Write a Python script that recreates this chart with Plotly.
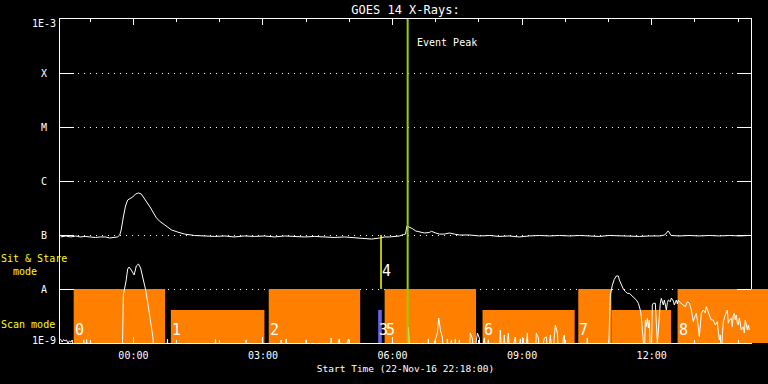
import math
from datetime import datetime, timedelta
import plotly.graph_objects as go

# ---------------- data ----------------
start_time = datetime(2016, 11, 22, 22, 18)
end_time = datetime(2016, 11, 23, 14, 18)

# GOES 1-8 A channel (minutes after start, flux W/m^2)
long_min = [1, 8, 15, 22, 28, 35, 42, 49, 56, 63, 69, 74, 80, 83, 85, 88, 91, 94, 97, 101,
            105, 109, 113, 117, 122, 126, 130, 134, 138, 144, 149, 155, 163, 173, 187, 201,
            215, 229, 242, 256, 270, 284, 298, 312, 326, 340, 354, 367, 381, 395, 409, 423,
            433, 444, 451, 458, 465, 472, 477, 480, 482, 485, 490, 494, 499, 506, 513, 516,
            522, 527, 534, 541, 548, 555, 569, 583, 597, 610, 624, 638, 652, 666, 680, 694,
            708, 722, 735, 749, 763, 777, 791, 805, 819, 833, 840, 845, 849, 860, 874, 888,
            902, 916, 930, 944, 958]
long_flux = [9.2e-8, 9.6e-8, 9.2e-8, 9.6e-8, 9.2e-8, 9.4e-8, 9.2e-8, 9.0e-8, 9.2e-8, 9.2e-8,
             8.8e-8, 9.0e-8, 9.2e-8, 1.0e-7, 1.24e-7, 2.15e-7, 3.44e-7, 4.45e-7, 4.64e-7, 5.06e-7,
             5.74e-7, 6.0e-7, 5.74e-7, 4.84e-7, 3.92e-7, 3.16e-7, 2.55e-7, 2.07e-7, 1.82e-7, 1.6e-7,
             1.41e-7, 1.24e-7, 1.14e-7, 1.04e-7, 9.8e-8, 9.6e-8, 9.4e-8, 9.6e-8, 9.2e-8, 9.6e-8,
             9.4e-8, 9.6e-8, 9.2e-8, 9.6e-8, 9.4e-8, 9.2e-8, 9.4e-8, 9.2e-8, 9.0e-8, 9.2e-8,
             8.8e-8, 8.6e-8, 8.4e-8, 8.8e-8, 9.2e-8, 9.2e-8, 9.4e-8, 9.6e-8, 1.02e-7, 1.04e-7,
             1.47e-7, 1.41e-7, 1.3e-7, 1.19e-7, 1.14e-7, 1.09e-7, 1.11e-7, 1.17e-7, 1.09e-7, 1.04e-7,
             1.04e-7, 1.09e-7, 1.04e-7, 1.0e-7, 1.0e-7, 9.6e-8, 9.8e-8, 9.4e-8, 9.6e-8, 9.2e-8,
             9.6e-8, 9.8e-8, 9.6e-8, 9.8e-8, 9.6e-8, 9.8e-8, 9.6e-8, 9.4e-8, 9.8e-8, 9.6e-8,
             9.6e-8, 9.4e-8, 9.6e-8, 9.6e-8, 1.0e-7, 1.19e-7, 9.8e-8, 9.6e-8, 9.8e-8, 9.6e-8,
             9.8e-8, 9.6e-8, 9.8e-8, 9.6e-8, 9.8e-8]

# GOES 0.5-4 A channel (minutes after start, flux W/m^2); values < 1E-9 are off-scale
short_min = [0.5, 3, 5, 7, 9, 11, 13, 15, 17, 19, 32, 33, 35, 37, 39, 84, 86.5, 88, 89.5, 92,
             94, 96, 99, 103, 106, 109, 112, 115, 119, 122, 126, 129, 131,
             148, 149.3, 151, 214, 216, 218, 257, 258.6, 260, 306, 307.2, 310, 314.2, 316,
             341, 342, 343, 375, 376.7, 378, 388.2, 390, 401.1, 403,
             482, 484, 486, 510, 511.8, 513, 521.5, 524.3, 526.1, 528.5, 531.2, 533,
             537, 538.2, 540, 543.8, 546, 549.3, 551, 554.9, 557,
             568, 570.1, 572.9, 575, 579.9, 582.6, 584, 589.6, 591, 595.2, 597,
             610, 611.8, 614, 617.3, 619, 622.9, 625, 632.6, 635, 639.6, 641, 643.7, 646, 649.3, 651,
             660, 661.8, 664.6, 667, 672.9, 675.7, 678, 681.3, 684, 688.2, 691.0, 693,
             697, 699.3, 700.7, 702, 731, 732.6, 734,
             761.8, 763.2, 764.6, 767.4, 770.1, 772.9, 775.7, 777.1, 779.9, 782.6, 785.4, 788.2,
             791.0, 793.7, 796.5, 799.3, 800.7, 803.5, 806.2, 807.6, 809.0, 810.4, 811.8, 813.2,
             814.6, 816.0, 817.4, 818.8, 820.2, 821.5, 822.9, 824.3, 827.1, 828.5, 829.9, 831.3,
             832.6, 834.0, 835.4, 836.8, 838.2, 839.6, 841.0, 842.4, 843.8, 845.2, 846.5, 847.9,
             849.3, 850.7, 852.1, 853.5, 854.9, 856.3, 857.7, 859.0, 860.4, 863.2, 866.0, 868.8,
             871.5, 874.3, 877.1, 879.9, 881.3, 884.0, 886.8, 888.2, 889.6, 891.0, 893.8, 896.5,
             897.9, 899.3, 902.1, 904.9, 907.6, 910.4, 913.2, 914.6, 916.0, 917.4, 918.8, 920.2,
             921.5, 924.3, 927.1, 928.5, 929.9, 932.6, 934.0, 935.4, 936.8, 938.2, 939.6, 941.0,
             942.4, 943.8, 946.5, 949.3, 950.7, 952.1, 954.9, 956.3, 957.7]
short_flux = [1.19e-9, 1.04e-9, 1.16e-9, 1.09e-9, 1.14e-9, 1.0e-9, 1.09e-9, 1.04e-9, 1.14e-9, 5e-10,
              5e-10, 1.14e-9, 5e-10, 1.16e-9, 5e-10, 5e-10, 5e-10, 7.7e-9, 9.6e-9, 1.47e-8,
              2.34e-8, 2.55e-8, 2.25e-8, 1.82e-8, 2.67e-8, 2.9e-8, 2.45e-8, 1.67e-8, 9.6e-9, 5.5e-9,
              2.67e-9, 1.29e-9, 5e-10,
              5e-10, 1.17e-9, 5e-10, 5e-10, 1.17e-9, 5e-10, 5e-10, 1.14e-9, 5e-10, 5e-10, 1.14e-9,
              5e-10, 1.19e-9, 5e-10,
              5e-10, 1.14e-9, 5e-10, 5e-10, 1.24e-9, 5e-10, 1.19e-9, 5e-10, 1.19e-9, 5e-10,
              5e-10, 1.98e-9, 5e-10, 5e-10, 1.19e-9, 5e-10, 1.24e-9, 1.53e-9, 2.9e-9, 1.74e-9,
              1.29e-9, 5e-10,
              5e-10, 1.19e-9, 5e-10, 1.14e-9, 5e-10, 1.19e-9, 5e-10, 1.14e-9, 5e-10,
              5e-10, 1.53e-9, 1.2e-9, 5e-10, 1.53e-9, 1.24e-9, 5e-10, 1.24e-9, 5e-10, 1.14e-9, 5e-10,
              5e-10, 1.74e-9, 5e-10, 1.41e-9, 5e-10, 1.53e-9, 5e-10, 1.29e-9, 5e-10, 1.19e-9, 5e-10,
              1.24e-9, 5e-10, 1.53e-9, 5e-10,
              5e-10, 1.53e-9, 1.24e-9, 5e-10, 1.24e-9, 1.29e-9, 5e-10, 1.41e-9, 5e-10, 2.15e-9,
              1.53e-9, 5e-10,
              5e-10, 1.24e-9, 1.41e-9, 5e-10, 5e-10, 1.24e-9, 5e-10,
              5e-10, 4.08e-9, 7.74e-9, 1.19e-8, 1.51e-8, 1.74e-8, 1.74e-8, 1.47e-8, 1.19e-8, 1.0e-8,
              9.0e-9, 8.3e-9, 8.3e-9, 7.74e-9, 7.2e-9, 6.45e-9, 6.26e-9, 5.44e-9, 4.08e-9, 3.07e-9,
              2.0e-9, 1.06e-9, 5e-10, 2.67e-9, 2.0e-9, 2.87e-9, 1.9e-9, 2.67e-9, 5e-10, 5e-10,
              5.05e-9, 5.44e-9, 5.44e-9, 2.32e-9, 1.01e-9, 1.74e-9, 3.55e-9, 5.44e-9, 6.7e-9, 5.8e-9,
              5.05e-9, 6.26e-9, 5.05e-9, 4.08e-9, 5.6e-9, 6.26e-9, 6.1e-9, 5.8e-9, 6.81e-9, 6.45e-9,
              5.99e-9, 5.05e-9, 5.8e-9, 6.26e-9, 5.27e-9, 6.26e-9, 5.8e-9, 5.44e-9, 5.05e-9, 4.7e-9,
              5.8e-9, 5.5e-9, 4.08e-9, 2.48e-9, 2.9e-9, 3.55e-9, 2.0e-9, 1.31e-9, 2.15e-9, 3.55e-9,
              4.08e-9, 3.59e-9, 4.7e-9, 4.08e-9, 3.3e-9, 2.67e-9, 2.67e-9, 2.15e-9, 2.48e-9, 1.62e-9,
              1.14e-9, 1.41e-9, 5e-10, 1.41e-9, 2.48e-9, 3.3e-9, 4.08e-9, 2.32e-9, 2.67e-9, 2.87e-9,
              2.0e-9, 3.3e-9, 3.55e-9, 2.67e-9, 3.3e-9, 2.32e-9, 2.15e-9, 2.9e-9, 1.74e-9, 2.0e-9,
              1.53e-9, 2.67e-9, 1.74e-9, 2.15e-9, 1.74e-9]

y_tick_vals = [1e-9, 1e-8, 1e-7, 1e-6, 1e-5, 1e-4, 1e-3]
y_tick_text = ["1E-9", "A", "B", "C", "M", "X", "1E-3"]

# observation blocks
block_labels = ["0", "1", "2", "3", "5", "6", "7", "", "8"]
block_start = ["2016-11-22 22:37", "2016-11-23 00:52", "2016-11-23 03:08", "2016-11-23 05:40",
               "2016-11-23 05:49", "2016-11-23 08:05", "2016-11-23 10:18", "2016-11-23 11:04",
               "2016-11-23 12:36"]
block_end = ["2016-11-23 00:44", "2016-11-23 03:02", "2016-11-23 05:15", "2016-11-23 05:45",
             "2016-11-23 07:56", "2016-11-23 10:13", "2016-11-23 11:04", "2016-11-23 12:27",
             "2016-11-23 15:00"]
block_mode = ["sit", "scan", "sit", "scan", "sit", "scan", "sit", "scan", "sit"]
block_kind = ["obs", "obs", "obs", "alt", "obs", "obs", "obs", "obs", "obs"]

marker4_label = "4"
marker4_time = "2016-11-23 05:44"
marker4_range = [1e-8, 1e-7]

event_peak_time = "2016-11-23 06:21"
event_peak_text = "Event Peak"

# ---------------- styles ----------------
mode_top = {"sit": 1e-8, "scan": 4.1e-9}
kind_color = {"obs": "#FF8000", "alt": "rgb(100,100,235)"}
FONT = "DejaVu Sans Mono"

def to_dt(m):
    return start_time + timedelta(minutes=m)

long_t = [to_dt(m) for m in long_min]
short_t = [to_dt(m) for m in short_min]

fig = go.Figure()
fig.add_trace(go.Scatter(x=long_t, y=long_flux, mode="lines",
                         line=dict(color="white", width=1), showlegend=False, hoverinfo="skip"))
fig.add_trace(go.Scatter(x=short_t, y=short_flux, mode="lines",
                         line=dict(color="white", width=1), showlegend=False, hoverinfo="skip"))

shapes = []
annotations = []
span_s = (end_time - start_time).total_seconds()
for lab, s, e, mode, kind in zip(block_labels, block_start, block_end, block_mode, block_kind):
    top = mode_top[mode]
    shapes.append(dict(type="rect", xref="x", yref="y", x0=s, x1=e, y0=1e-9, y1=top,
                       fillcolor=kind_color[kind], line=dict(width=0), layer="between"))
    e_dt = datetime.strptime(e, "%Y-%m-%d %H:%M")
    if e_dt > end_time:
        frac = (e_dt - start_time).total_seconds() / span_s
        shapes.append(dict(type="rect", xref="paper", yref="paper", x0=1, x1=frac, y0=0,
                           y1=(math.log10(top) + 9) / 6.0,
                           fillcolor=kind_color[kind], line=dict(width=0), layer="above"))
    if lab:
        annotations.append(dict(x=s, y=0.04, xref="x", yref="paper", text=lab, showarrow=False,
                                xanchor="left", yanchor="middle", xshift=-1,
                                font=dict(family=FONT, size=15, color="white")))

# marker 4 line
shapes.append(dict(type="line", xref="x", yref="y", x0=marker4_time, x1=marker4_time,
                   y0=marker4_range[0], y1=marker4_range[1],
                   line=dict(color="#FFFF00", width=1.5), layer="above"))
annotations.append(dict(x=marker4_time, y=0.221, xref="x", yref="paper", text=marker4_label,
                        showarrow=False, xanchor="left", yanchor="middle", xshift=-1,
                        font=dict(family=FONT, size=15, color="white")))

# event peak
shapes.append(dict(type="line", xref="x", yref="paper", x0=event_peak_time, x1=event_peak_time,
                   y0=0, y1=1, line=dict(color="#9ACD00", width=2), layer="above"))
annotations.append(dict(x=event_peak_time, y=0.926, xref="x", yref="paper", text=event_peak_text,
                        showarrow=False, xanchor="left", yanchor="middle", xshift=7,
                        font=dict(family=FONT, size=10, color="white")))

# y labels
for v, t in zip(y_tick_vals, y_tick_text):
    ys = 0
    if v == y_tick_vals[-1]:
        ys = -4
    elif v == y_tick_vals[0]:
        ys = 3
    annotations.append(dict(x=0, y=math.log10(v), xref="paper", yref="y", text=t, showarrow=False,
                            xanchor="center", yanchor="middle", xshift=-16, yshift=ys,
                            font=dict(family=FONT, size=10, color="white")))

# mode labels
annotations.append(dict(x=0, y=0.241, xref="paper", yref="paper",
                        text="Sit & Stare<br>\u00a0\u00a0mode", showarrow=False, align="left",
                        xanchor="left", yanchor="middle", xshift=-61,
                        font=dict(family=FONT, size=10, color="#FFFF00")))
annotations.append(dict(x=0, y=0.0586, xref="paper", yref="paper", text="Scan mode",
                        showarrow=False, align="left", xanchor="left", yanchor="middle", xshift=-61,
                        font=dict(family=FONT, size=10, color="#FFFF00")))

fig.update_layout(
    width=768, height=384,
    margin=dict(l=60, r=17, t=19, b=41),
    paper_bgcolor="black", plot_bgcolor="black",
    title=dict(text="GOES 14 X-Rays:", x=0.5, xref="paper", xanchor="center",
               y=1, yref="container", yanchor="top", pad=dict(t=6),
               font=dict(family=FONT, size=12, color="white")),
    shapes=shapes, annotations=annotations,
    showlegend=False,
)
fig.update_xaxes(
    type="date", range=[start_time, end_time],
    tickformat="%H:%M", dtick=3 * 3600000, tick0="2016-11-23 00:00",
    ticks="inside", ticklen=6, tickcolor="white", tickwidth=1,
    minor=dict(dtick=3600000, ticks="inside", ticklen=3, tickcolor="white", showgrid=False),
    showline=True, linecolor="white", linewidth=1, mirror="ticks",
    showgrid=False, zeroline=False, ticklabelstandoff=3,
    tickfont=dict(family=FONT, size=10, color="white"),
    title=dict(text="Start Time (22-Nov-16 22:18:00)", standoff=5,
               font=dict(family=FONT, size=9.5, color="white")),
)
fig.update_yaxes(
    type="log", range=[-9, -3], dtick=1,
    ticks="inside", ticklen=14, tickcolor="white", tickwidth=1,
    showline=True, linecolor="white", linewidth=1, mirror="ticks",
    showgrid=True, gridcolor="white", gridwidth=1, griddash="1px,5px",
    showticklabels=False, zeroline=False,
)

fig.write_html("out.html", config={"displayModeBar": False},
               post_script="document.body.style.margin='0';document.body.style.background='black';")
